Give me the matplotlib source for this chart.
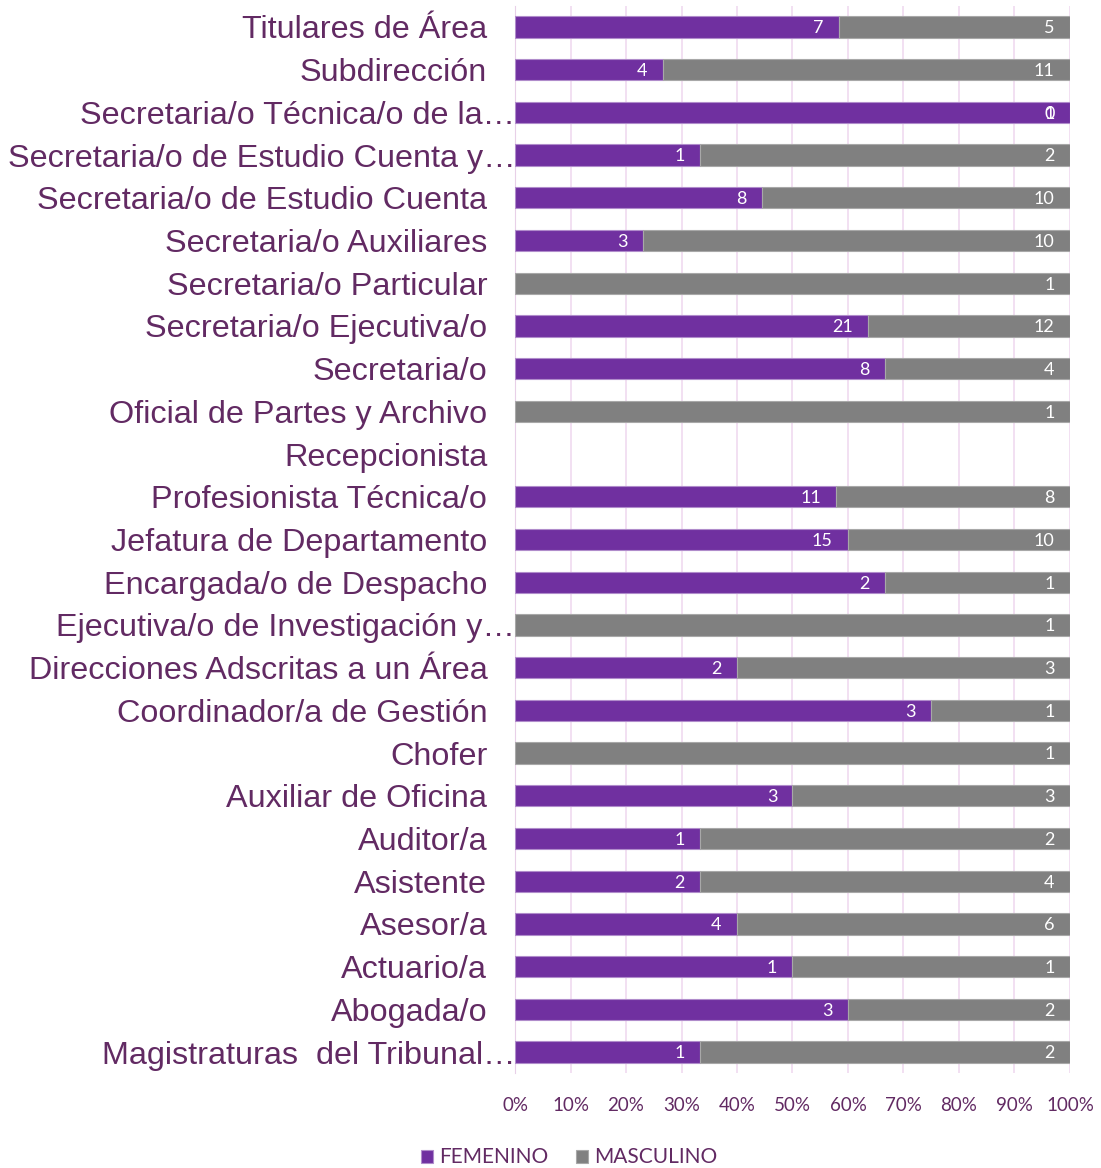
import numpy as np
from matplotlib import pyplot as plt
from matplotlib.transforms import ScaledTranslation

categories = [
    "Titulares de Área",
    "Subdirección",
    "Secretaria/o Técnica/o de la…",
    "Secretaria/o de Estudio Cuenta y…",
    "Secretaria/o de Estudio Cuenta",
    "Secretaria/o Auxiliares",
    "Secretaria/o Particular",
    "Secretaria/o Ejecutiva/o",
    "Secretaria/o",
    "Oficial de Partes y Archivo",
    "Recepcionista",
    "Profesionista Técnica/o",
    "Jefatura de Departamento",
    "Encargada/o de Despacho",
    "Ejecutiva/o de Investigación y…",
    "Direcciones Adscritas a un Área",
    "Coordinador/a de Gestión",
    "Chofer",
    "Auxiliar de Oficina",
    "Auditor/a",
    "Asistente",
    "Asesor/a",
    "Actuario/a",
    "Abogada/o",
    "Magistraturas  del Tribunal…",
]
nan = np.nan
femenino = [7, 4, 1, 1, 8, 3, nan, 21, 8, nan, nan, 11, 15, 2, nan, 2, 3, nan, 3, 1, 2, 4, 1, 3, 1]
masculino = [5, 11, 0, 2, 10, 10, 1, 12, 4, 1, nan, 8, 10, 1, 1, 3, 1, 1, 3, 2, 4, 6, 1, 2, 2]

PURPLE = "#7030A0"
GRAY = "#808080"
TEXT = "#622A63"


def main():
    fem = np.array(femenino, dtype=float)
    mas = np.array(masculino, dtype=float)
    total = np.nansum(np.vstack([fem, mas]), axis=0)
    total[total == 0] = 1
    fem_p = np.nan_to_num(fem) / total * 100
    mas_p = np.nan_to_num(mas) / total * 100

    fig = plt.figure(figsize=(11.01, 11.68), dpi=100)
    ax = fig.add_axes([0.4678, 0.081, 0.504, 0.9142])
    y = np.arange(len(categories))

    f_on = fem_p > 0
    m_on = mas_p > 0
    ax.barh(y[f_on], fem_p[f_on], height=0.5, color=PURPLE,
            edgecolor="#B08CCB", linewidth=0.8, label="FEMENINO", zorder=3)
    ax.barh(y[m_on], mas_p[m_on], left=fem_p[m_on], height=0.5, color=GRAY,
            edgecolor="#A8A8A8", linewidth=0.8, label="MASCULINO", zorder=3)

    for i in range(len(categories)):
        if not np.isnan(fem[i]):
            ax.annotate(f"{fem[i]:.0f}", (fem_p[i], y[i]), xytext=(-11, -1),
                        textcoords="offset points", ha="right", va="center",
                        color="white", fontsize=13, family="Lato", zorder=4)
        if not np.isnan(mas[i]):
            ax.annotate(f"{mas[i]:.0f}", (fem_p[i] + mas_p[i], y[i]),
                        xytext=(-11, -1), textcoords="offset points",
                        ha="right", va="center", color="white", fontsize=13,
                        family="Lato", zorder=4)

    ax.set_ylim(len(categories) - 0.5, -0.5)
    ax.set_xlim(0, 100)
    ax.set_xticks(np.arange(0, 101, 10))
    ax.set_xticklabels([f"{v}%" for v in range(0, 101, 10)])
    ax.set_yticks(y)
    ax.set_yticklabels(categories)
    ax.grid(axis="x", color="#F0DAF0", linewidth=1.2, zorder=0)
    for s in ["top", "right", "bottom"]:
        ax.spines[s].set_visible(False)
    ax.spines["left"].set_color("#E8D0E8")

    ax.tick_params(axis="y", length=0, pad=20, labelsize=23.3,
                   labelcolor=TEXT)
    ax.tick_params(axis="x", length=0, pad=17, labelsize=13.5,
                   labelcolor=TEXT)
    for lab in ax.get_yticklabels():
        lab.set_family("Liberation Sans")
        if lab.get_text().endswith("…"):
            lab.set_transform(lab.get_transform()
                              + ScaledTranslation(0.28, 0, fig.dpi_scale_trans))
    for lab in ax.get_xticklabels():
        lab.set_family("Lato")

    fig.legend(loc="center", bbox_to_anchor=(0.517, 0.009), ncol=2,
               frameon=False, handlelength=0.6, handleheight=0.6,
               handletextpad=0.3, columnspacing=1.3,
               prop={"family": "Lato", "size": 15}, labelcolor=TEXT)

    fig.savefig("out.png", dpi=100)


if __name__ == "__main__":
    main()
